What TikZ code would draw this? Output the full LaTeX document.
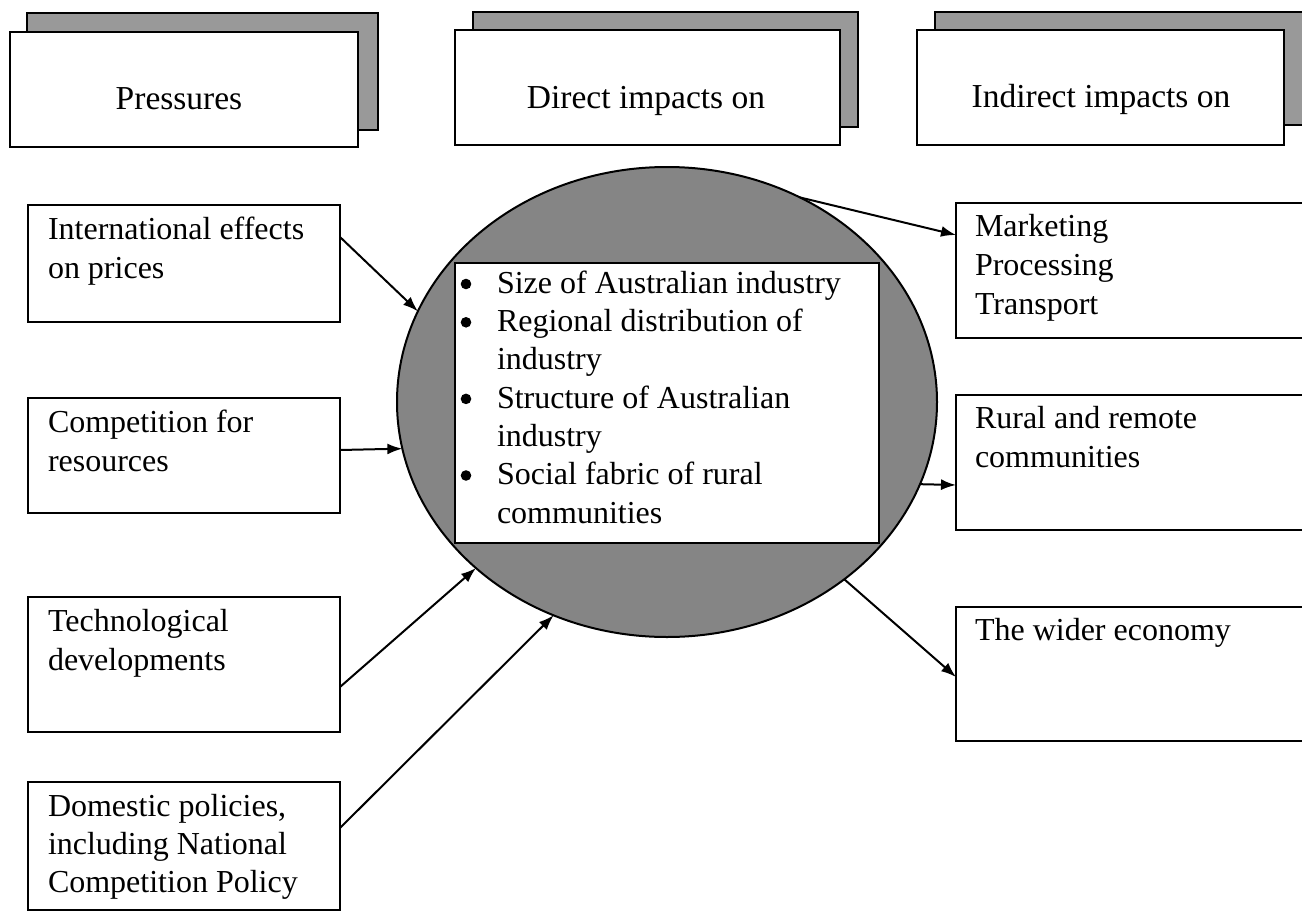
\documentclass[tikz,border=0pt]{standalone}
\usepackage{fontspec}
\setmainfont{Liberation Serif}
\usetikzlibrary{shapes.geometric,arrows.meta,calc}

\begin{document}
\begin{tikzpicture}[x=1pt,y=-1pt,
  every node/.style={inner sep=0pt, outer sep=0pt},
  box/.style={draw=black, line width=2pt, fill=white, anchor=north west},
  shadowbox/.style={draw=black, line width=1.8pt, fill=black!40, anchor=north west},
  txt/.style={font=\fontsize{32}{39}\selectfont, anchor=base west, align=left},
  headtxt/.style={font=\fontsize{33.5}{39}\selectfont, anchor=base},
  link/.style={line width=2pt, -{Latex[length=15pt,width=11pt]}},
  listdot/.style={fill=black},
]
\useasboundingbox (0,0) rectangle (1302,918);
\begin{scope}
\clip (0,0) rectangle (1302,918);

% column headings with offset shadow cards
\node[shadowbox, minimum width=351pt, minimum height=117pt] (presS) at (27,13) {};
\node[box, minimum width=348pt, minimum height=115pt] (pres) at (10,32) {};
\node[headtxt] (presT) at (179,109) {Pressures};

\node[shadowbox, minimum width=385pt, minimum height=115pt] (dirS) at (473,12) {};
\node[box, minimum width=385pt, minimum height=115pt] (dir) at (455,30) {};
\node[headtxt] (dirT) at (646,108) {Direct impacts on};

\node[shadowbox, minimum width=390pt, minimum height=113pt] (indS) at (935,12) {};
\node[box, minimum width=367pt, minimum height=115pt] (ind) at (917,30) {};
\node[headtxt] (indT) at (1101,107) {Indirect impacts on};

% pressures (anchor sits on the baseline of the last line)
\node[box, minimum width=312pt, minimum height=117pt] (intl) at (28,205) {};
\node[txt] (intlT) at (48,278) {International effects\\on prices};
\node[box, minimum width=312pt, minimum height=115pt] (comp) at (28,398) {};
\node[txt] (compT) at (48,471) {Competition for\\resources};
\node[box, minimum width=312pt, minimum height=135pt] (tech) at (28,597) {};
\node[txt] (techT) at (48,670) {Technological\\developments};
\node[box, minimum width=312pt, minimum height=128pt] (dom) at (28,782) {};
\node[txt, font=\fontsize{32}{38}\selectfont] (domT) at (48,892) {Domestic policies,\\including National\\Competition Policy};

% direct impacts
\node[ellipse, draw=black, line width=2pt, fill=black!48,
      minimum width=540pt, minimum height=470pt] (core) at (667,402) {};
\node[box, minimum width=424pt, minimum height=280pt] (list) at (455,263) {};
\node[txt, font=\fontsize{32}{38.3}\selectfont] (listT) at (497,523)
  {Size of Australian industry\\
   Regional distribution of\\
   industry\\
   Structure of Australian\\
   industry\\
   Social fabric of rural\\
   communities};
% list bullets
\foreach \yb in {284, 322.3, 398.9, 475.5}
  \fill[listdot] (466,\yb) circle (5.3pt);

% indirect impacts
\node[box, minimum width=370pt, minimum height=135pt] (mkt) at (956,203) {};
\node[txt] (mktT) at (975,314) {Marketing\\Processing\\Transport};
\node[box, minimum width=370pt, minimum height=135pt] (rural) at (956,395) {};
\node[txt] (ruralT) at (975,467) {Rural and remote\\communities};
\node[box, minimum width=370pt, minimum height=134pt] (wider) at (956,607) {};
\node[txt] (widerT) at (975,640) {The wider economy};

% connectors
\draw[link] ($(intl.north east)+(0,32)$) -- (core.160.7);
\draw[link] ($(comp.north east)+(0,52)$) -- (core.190.3);
\draw[link] ($(tech.north east)+(0,90)$) -- (core.221.5);
\draw[link] ($(dom.north east)+(0,46)$) -- (core.242.5);
\draw[link] (core.57.3) -- ($(mkt.north west)+(0,32)$);
\draw[link] (core.-18.2) -- ($(rural.north west)+(0,90)$);
\draw[link] (core.-45.8) -- ($(wider.north west)+(0,70)$);
\end{scope}
\end{tikzpicture}
\end{document}
